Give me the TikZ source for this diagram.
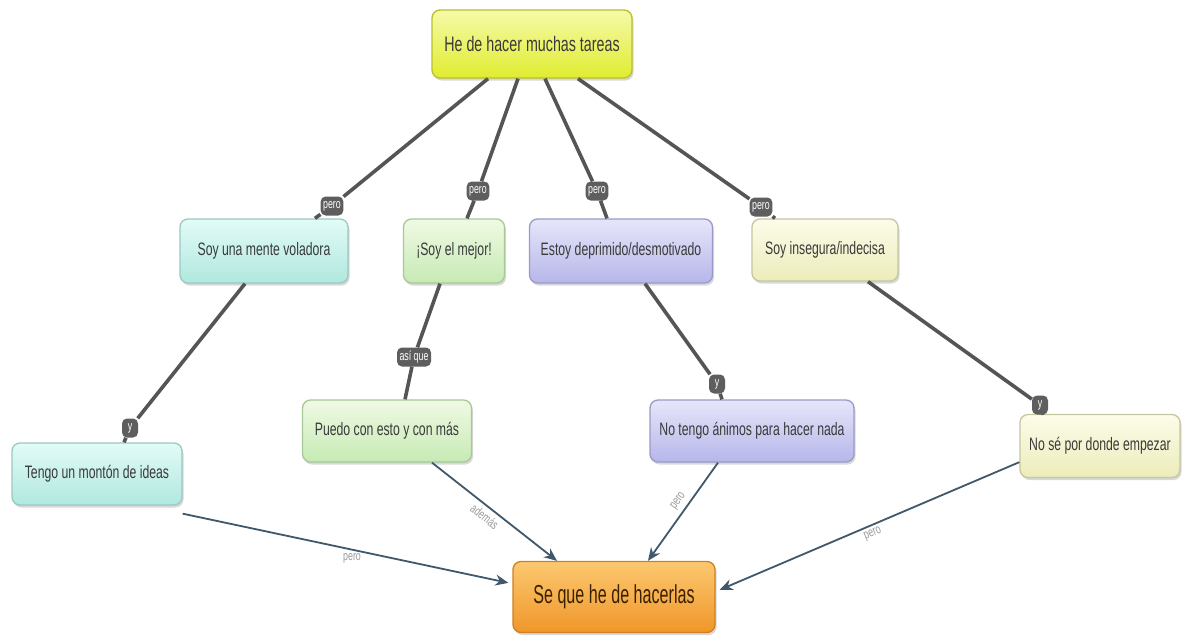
\documentclass[tikz,border=0pt]{standalone}
\usepackage{fontspec}
\setmainfont{Liberation Sans}
\newfontfamily\cond{Liberation Sans}[FakeStretch=0.68]
\newfontfamily\condbig{Liberation Sans}[FakeStretch=0.62]
\usetikzlibrary{shadows,arrows.meta}

\definecolor{linkgrey}{HTML}{555555}
\definecolor{arrowslate}{HTML}{40586A}
\definecolor{labelgrey}{HTML}{9A9A9A}
\definecolor{txt}{HTML}{3A3A3A}
\definecolor{cyanedge}{HTML}{9CC8C0}
\definecolor{cyantop}{HTML}{E2FBF7}
\definecolor{cyanbot}{HTML}{B0E8DF}
\definecolor{greenedge}{HTML}{A8C898}
\definecolor{greentop}{HTML}{F0FAE4}
\definecolor{greenbot}{HTML}{C6EAB4}
\definecolor{lilacedge}{HTML}{9A9AC8}
\definecolor{lilactop}{HTML}{E6E6FA}
\definecolor{lilacbot}{HTML}{B6B6EA}
\definecolor{creamedge}{HTML}{C6C6A0}
\definecolor{creamtop}{HTML}{FCFCEA}
\definecolor{creambot}{HTML}{ECECBA}
\definecolor{limeedge}{HTML}{B8C02A}
\definecolor{limetop}{HTML}{F6FAA8}
\definecolor{limebot}{HTML}{E0EC30}
\definecolor{orangeedge}{HTML}{D08020}
\definecolor{orangetop}{HTML}{FCC870}
\definecolor{orangebot}{HTML}{F0962A}
\definecolor{orangetext}{HTML}{3A2200}
\definecolor{labelfill}{HTML}{5E5E5E}

\begin{document}
\begin{tikzpicture}[x=1pt,y=-1pt,
  concept/.style={rounded corners=8pt, align=center, text=txt,
    line width=1.3pt, inner sep=4pt,
    font=\cond\fontsize{18}{20}\selectfont,
    drop shadow={opacity=0.3, shadow xshift=1.5pt, shadow yshift=-2.5pt}},
  cyanbox/.style={concept, draw=cyanedge, top color=cyantop, bottom color=cyanbot},
  greenbox/.style={concept, draw=greenedge, top color=greentop, bottom color=greenbot},
  lilacbox/.style={concept, draw=lilacedge, top color=lilactop, bottom color=lilacbot},
  creambox/.style={concept, draw=creamedge, top color=creamtop, bottom color=creambot},
  link/.style={draw=linkgrey, line width=3.6pt},
  linklabel/.style={fill=labelfill, rounded corners=5pt, text=white,
    font=\cond\fontsize{13}{14}\selectfont, inner sep=2.5pt,
    minimum height=19pt, minimum width=16pt},
  arrowlink/.style={draw=arrowslate, line width=1.8pt,
    -{Stealth[length=13pt,width=11pt]}},
  arrowlabel/.style={text=labelgrey, font=\cond\fontsize{13}{14}\selectfont,
    inner sep=1pt},
]
\useasboundingbox[fill=white] (0,0) rectangle (1184,635);

% concepts
\node[concept, draw=limeedge, top color=limetop, bottom color=limebot,
      minimum width=200pt, minimum height=68pt,
      font=\cond\fontsize{21}{23}\selectfont] (top) at (532,44) {He de hacer muchas tareas};

\node[cyanbox,  minimum width=168pt, minimum height=64pt] (mente)  at (264,251) {Soy una mente voladora};
\node[greenbox, minimum width=101pt, minimum height=64pt] (mejor)  at (454,251) {¡Soy el mejor!};
\node[lilacbox, minimum width=183pt, minimum height=64pt] (estoy)  at (621,251) {Estoy deprimido/desmotivado};
\node[creambox, minimum width=146pt, minimum height=62pt] (inseg)  at (825,250) {Soy insegura/indecisa};

\node[cyanbox,  minimum width=170pt, minimum height=62pt] (ideas)  at (97,474)  {Tengo un montón de ideas};
\node[greenbox, minimum width=169pt, minimum height=62pt] (puedo)  at (387,431) {Puedo con esto y con más};
\node[lilacbox, minimum width=204pt, minimum height=62pt] (animos) at (752,431) {No tengo ánimos para hacer nada};
\node[creambox, minimum width=160pt, minimum height=63pt] (empezar) at (1100,446) {No sé por donde empezar};

\node[concept, draw=orangeedge, top color=orangetop, bottom color=orangebot,
      minimum width=202pt, minimum height=71pt, text=orangetext,
      font=\condbig\fontsize{26}{28}\selectfont] (final) at (614,597) {Se que he de hacerlas};

% linking phrases
\node[linklabel] (l1) at (332,206) {pero};
\node[linklabel] (l2) at (478,191) {pero};
\node[linklabel] (l3) at (597,191) {pero};
\node[linklabel] (l4) at (761,207) {pero};
\node[linklabel] (l5) at (130,428) {y};
\node[linklabel] (l6) at (414,357) {así que};
\node[linklabel] (l7) at (717,384) {y};
\node[linklabel] (l8) at (1040,405) {y};

% links from the main task
\draw[link] ([xshift=-44pt]top.south) -- (l1) -- ([xshift=51pt]mente.north);
\draw[link] ([xshift=-14pt]top.south) -- (l2) -- ([xshift=13pt]mejor.north);
\draw[link] ([xshift=13pt]top.south)  -- (l3) -- ([xshift=-14pt]estoy.north);
\draw[link] ([xshift=46pt]top.south)  -- (l4) -- ([xshift=-50pt]inseg.north);

% links to the third row
\draw[link] ([xshift=-19pt]mente.south) -- (l5) -- ([xshift=27pt]ideas.north);
\draw[link] ([xshift=-14pt]mejor.south) -- (l6) -- ([xshift=18pt]puedo.north);
\draw[link] ([xshift=24pt]estoy.south)  -- (l7) -- ([xshift=-30pt]animos.north);
\draw[link] ([xshift=43pt]inseg.south)  -- (l8) -- ([xshift=-57pt]empezar.north);

% arrows to the conclusion
\draw[arrowlink] ([yshift=-8pt]ideas.south east) -- node[arrowlabel, pos=0.52, below=2pt] {pero} ([xshift=-4pt,yshift=-22pt]final.north west);
\draw[arrowlink] ([xshift=45pt]puedo.south) -- node[arrowlabel, pos=0.47, sloped, below=3pt] {además} ([xshift=-57pt]final.north);
\draw[arrowlink] ([xshift=-34pt]animos.south) -- node[arrowlabel, pos=0.45, sloped, above=3pt] {pero} ([xshift=34pt]final.north);
\draw[arrowlink] ([yshift=16pt]empezar.south west) -- node[arrowlabel, pos=0.5, sloped, below=2pt] {pero} ([xshift=4pt,yshift=-29pt]final.north east);
\end{tikzpicture}
\end{document}
